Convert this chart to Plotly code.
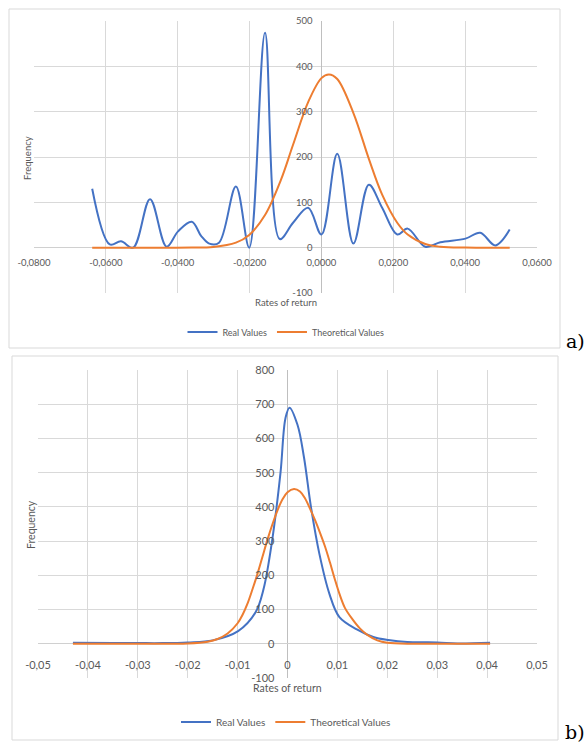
import plotly.graph_objects as go

# ---------------- Panel a) data ----------------
a_real_x = [-0.0638, -0.0589, -0.0558, -0.0524, -0.0477, -0.0431, -0.0399, -0.0361,
            -0.0334, -0.0312, -0.0285, -0.0238, -0.0201, -0.0157, -0.0116, -0.0079,
            -0.0037, 0.0000, 0.0044, 0.0089, 0.0132, 0.0169, 0.0211, 0.0240,
            0.0289, 0.0331, 0.0401, 0.0442, 0.0484, 0.0524]
a_real_y = [130, 7, 14, 0, 107, 2, 36, 57,
            25, 9, 11, 135, 0, 474, 19, 55,
            88, 29, 207, 9, 139, 88, 29, 42,
            2, 12, 20, 33, 5, 40]

a_theo_x = [-0.0638, -0.0524, -0.0431, -0.0361, -0.0301, -0.0238, -0.0201, -0.0157,
            -0.0113, -0.0079, -0.0037, 0.0000, 0.0021, 0.0044, 0.0089, 0.0132, 0.0169,
            0.0211, 0.0240, 0.0289, 0.0331, 0.0401, 0.0442, 0.0484, 0.0524]
a_theo_y = [0, 0, 0, 0.2, 1.6, 11, 28, 72,
            149, 227, 321, 374, 382, 372, 297, 196, 117,
            55, 29, 8, 2, 0.2, 0, 0, 0]

a_xticks = [-0.08, -0.06, -0.04, -0.02, 0.0, 0.02, 0.04, 0.06]
a_xlabels = ["-0,0800", "-0,0600", "-0,0400", "-0,0200", "0,0000", "0,0200", "0,0400", "0,0600"]
a_yticks = [-100, 0, 100, 200, 300, 400, 500]
a_ylabels = ["-100", "0", "100", "200", "300", "400", "500"]

# ---------------- Panel b) data ----------------
b_real_x = [-0.0430, -0.0350, -0.0300, -0.0250, -0.0200, -0.0150, -0.0099, -0.0064,
            -0.0048, -0.0031, -0.0014, -0.0004, 0.0004, 0.0020, 0.0033, 0.0047,
            0.0064, 0.0084, 0.0104, 0.0139, 0.0172, 0.0202, 0.0240, 0.0300,
            0.0340, 0.0406]
b_real_y = [3, 2, 2, 2, 4, 10, 37, 92,
            160, 300, 500, 660, 690, 640, 545, 400,
            262, 146, 78, 42, 20, 11, 5, 4,
            1, 3]

b_theo_x = [-0.0430, -0.0300, -0.0200, -0.0160, -0.0140, -0.0120, -0.0100, -0.0090,
            -0.0080, -0.0070, -0.0060, -0.0050, -0.0040, -0.0030, -0.0020, -0.0010,
            0.0000, 0.0013, 0.0025, 0.0035, 0.0045, 0.0055, 0.0065, 0.0075,
            0.0085, 0.0095, 0.0105, 0.0115, 0.0130, 0.0145, 0.0160, 0.0180,
            0.0200, 0.0250, 0.0300, 0.0406]
b_theo_y = [0, 0, 1, 6, 14, 30, 60, 85,
            118, 160, 205, 255, 305, 350, 390, 422,
            443, 452, 445, 425, 395, 362, 325, 285,
            238, 188, 142, 105, 72, 45, 26, 10,
            3, 0, 0, 0]

b_xticks = [-0.05, -0.04, -0.03, -0.02, -0.01, 0.0, 0.01, 0.02, 0.03, 0.04, 0.05]
b_xlabels = ["-0,05", "-0,04", "-0,03", "-0,02", "-0,01", "0", "0,01", "0,02", "0,03", "0,04", "0,05"]
b_yticks = [-100, 0, 100, 200, 300, 400, 500, 600, 700, 800]
b_ylabels = ["-100", "0", "100", "200", "300", "400", "500", "600", "700", "800"]

series_names = ["Real Values", "Theoretical Values"]
panel_labels = ["a)", "b)"]
x_title = "Rates of return"
y_title = "Frequency"

BLUE = "#4472C4"
ORANGE = "#ED7D31"
GRID = "#d9d9d9"
TXT = "#595959"
FONT = "Lato"

W, H = 587, 744

def px(v):
    return v / W

def py(v):
    return 1 - v / H

fig = go.Figure()

fig.add_trace(go.Scatter(x=a_real_x, y=a_real_y, name=series_names[0], mode="lines",
                         line=dict(color=BLUE, width=2, shape="spline", smoothing=1.0),
                         xaxis="x", yaxis="y", legend="legend"))
fig.add_trace(go.Scatter(x=a_theo_x, y=a_theo_y, name=series_names[1], mode="lines",
                         line=dict(color=ORANGE, width=2, shape="spline", smoothing=1.0),
                         xaxis="x", yaxis="y", legend="legend"))
fig.add_trace(go.Scatter(x=b_real_x, y=b_real_y, name=series_names[0], mode="lines",
                         line=dict(color=BLUE, width=2, shape="spline", smoothing=1.0),
                         xaxis="x2", yaxis="y2", legend="legend2"))
fig.add_trace(go.Scatter(x=b_theo_x, y=b_theo_y, name=series_names[1], mode="lines",
                         line=dict(color=ORANGE, width=2, shape="spline", smoothing=1.0),
                         xaxis="x2", yaxis="y2", legend="legend2"))

# plot-area geometry (window pixels)
a_l, a_r, a_t, a_b = 34, 537, 21, 293
b_l, b_r, b_t, b_b = 38, 537, 370, 678

a_xdom = [px(a_l), px(a_r)]
a_ydom = [py(a_b), py(a_t)]
b_xdom = [px(b_l), px(b_r)]
b_ydom = [py(b_b), py(b_t)]

a_xr = [-0.08, 0.06]
a_yr = [-100, 500]
b_xr = [-0.05, 0.05]
b_yr = [-100, 800]

def frac(r, v):
    return (v - r[0]) / (r[1] - r[0])

a_ypos = a_xdom[0] + (a_xdom[1] - a_xdom[0]) * frac(a_xr, 0)
a_xpos = a_ydom[0] + (a_ydom[1] - a_ydom[0]) * frac(a_yr, 0)
b_ypos = b_xdom[0] + (b_xdom[1] - b_xdom[0]) * frac(b_xr, 0)
b_xpos = b_ydom[0] + (b_ydom[1] - b_ydom[0]) * frac(b_yr, 0)

def axis(dom, rng, tv, tt, pos, size, standoff, zcolor):
    return dict(domain=dom, range=rng, anchor="free", position=pos, automargin=False,
                tickvals=tv, ticktext=tt, showgrid=True, gridcolor=GRID, gridwidth=1,
                zeroline=True, zerolinecolor=zcolor, zerolinewidth=1,
                showline=False, ticks="", fixedrange=True,
                tickfont=dict(family=FONT, size=size, color=TXT),
                ticklabelstandoff=standoff)

fig.update_layout(
    width=W, height=H, autosize=False,
    margin=dict(l=0, r=0, t=0, b=0, pad=0, autoexpand=False),
    paper_bgcolor="white", plot_bgcolor="white",
    font=dict(family=FONT, color=TXT),
    xaxis=axis(a_xdom, a_xr, a_xticks, a_xlabels, a_xpos, 9.5, 8, "#bfbfbf"),
    yaxis=axis(a_ydom, a_yr, a_yticks, a_ylabels, a_ypos, 9.5, 9, "#d0d0d0"),
    xaxis2=axis(b_xdom, b_xr, b_xticks, b_xlabels, b_xpos, 11, 13, "#bfbfbf"),
    yaxis2=axis(b_ydom, b_yr, b_yticks, b_ylabels, b_ypos, 11, 13, "#d0d0d0"),
    legend=dict(orientation="h", x=px(286), xanchor="center", y=py(332), yanchor="middle",
                font=dict(family=FONT, size=9, color=TXT), bgcolor="rgba(0,0,0,0)",
                itemwidth=30),
    legend2=dict(orientation="h", x=px(286), xanchor="center", y=py(722), yanchor="middle",
                 font=dict(family=FONT, size=10, color=TXT), bgcolor="rgba(0,0,0,0)",
                 itemwidth=30),
    shapes=[
        dict(type="rect", xref="paper", yref="paper", x0=px(9), x1=px(560), y0=py(348), y1=py(9),
             line=dict(color=GRID, width=1), fillcolor="rgba(0,0,0,0)", layer="below"),
        dict(type="rect", xref="paper", yref="paper", x0=px(12), x1=px(558), y0=py(740), y1=py(356),
             line=dict(color=GRID, width=1), fillcolor="rgba(0,0,0,0)", layer="below"),
    ],
    annotations=[
        dict(text=x_title, xref="paper", yref="paper", x=px(285.5), y=py(302), showarrow=False,
             xanchor="center", yanchor="middle", font=dict(family=FONT, size=9.5, color=TXT)),
        dict(text=y_title, xref="paper", yref="paper", x=px(27), y=py(158), showarrow=False,
             textangle=-90, xanchor="center", yanchor="middle", font=dict(family=FONT, size=9.5, color=TXT)),
        dict(text=x_title, xref="paper", yref="paper", x=px(287.5), y=py(688), showarrow=False,
             xanchor="center", yanchor="middle", font=dict(family=FONT, size=10.5, color=TXT)),
        dict(text=y_title, xref="paper", yref="paper", x=px(31), y=py(525), showarrow=False,
             textangle=-90, xanchor="center", yanchor="middle", font=dict(family=FONT, size=10.5, color=TXT)),
        dict(text=panel_labels[0], xref="paper", yref="paper", x=px(575.5), y=py(341), showarrow=False,
             xanchor="center", yanchor="middle", font=dict(family="DejaVu Serif", size=19, color="black")),
        dict(text=panel_labels[1], xref="paper", yref="paper", x=px(575), y=py(732), showarrow=False,
             xanchor="center", yanchor="middle", font=dict(family="DejaVu Serif", size=19, color="black")),
    ],
)

# remove the browser's default 8px body margin so the figure fills the window exactly
fig.write_html("out.html",
               config={"displayModeBar": False, "staticPlot": False},
               post_script="document.body.style.margin='0';document.body.style.overflow='hidden';")
